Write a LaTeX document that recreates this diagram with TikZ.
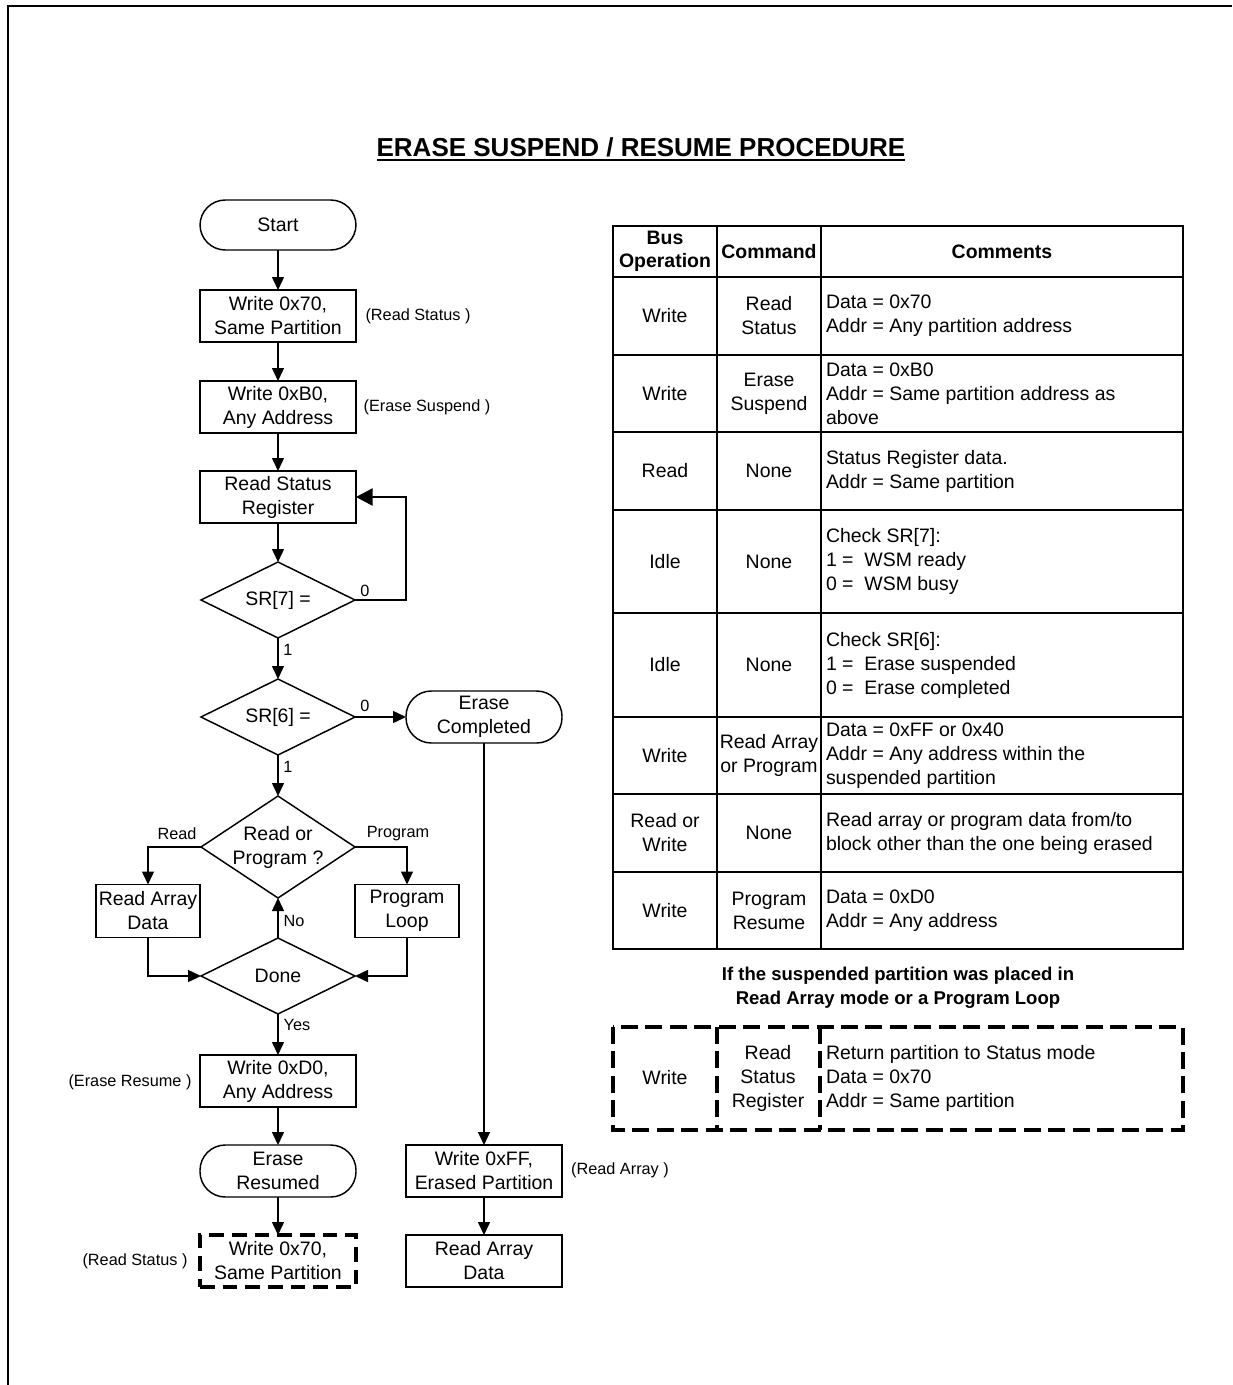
\documentclass[tikz,border=0pt]{standalone}
\usepackage{fontspec}
\setmainfont{Liberation Sans}
\usetikzlibrary{arrows.meta,shapes.geometric}
\begin{document}
\begin{tikzpicture}[x=0.75pt,y=-0.75pt,
  every node/.style={inner sep=0pt, outer sep=0pt},
  main/.style={font=\fontsize{14.6}{18}\selectfont, align=center},
  small/.style={font=\fontsize{12.2}{15}\selectfont},
  flow/.style={line width=1.1pt},
  proc/.style={main, draw, flow, minimum width=117pt, minimum height=39pt},
  dproc/.style={main, draw, line width=3pt, dash pattern=on 11pt off 6pt, minimum width=117pt, minimum height=39pt},
  sproc/.style={main, draw, flow, minimum width=78pt, minimum height=39.75pt},
  term/.style={main, draw, flow, minimum width=117pt, minimum height=39pt, rounded corners=19pt},
  dia/.style={draw, flow, shape=diamond, minimum width=115.5pt, minimum height=57pt},
  arr/.style={flow, -{Triangle[length=9.75pt,width=9pt]}},
  bigarr/.style={flow, -{Triangle[length=12.5pt,width=13pt]}},
  tline/.style={line width=1.5pt},
  dline/.style={line width=3pt, dash pattern=on 12.75pt off 5.6pt},
  hdr/.style={font=\fontsize{14.6}{17}\selectfont\bfseries, align=center},
  cell/.style={main},
  cmt/.style={font=\fontsize{14.6}{18}\selectfont, align=left, anchor=west}
]
\useasboundingbox (0,0) rectangle (1232,1385);
% frame
\draw[line width=2pt] (8,1385) -- (8,6) -- (1232,6);

% title
\node[font=\fontsize{19.5}{23}\selectfont\bfseries] (title) at (641,147) {ERASE SUSPEND / RESUME PROCEDURE};
\draw[line width=1.6pt] ([yshift=-3pt]title.base west) -- ([yshift=-3pt]title.base east);

% flowchart nodes
\node[term, minimum height=37.5pt] (start) at (278,225) {Start};
\node[proc] (b1) at (278,316) {Write 0x70,\\Same Partition};
\node[small] (l1) at (418,316) {(Read Status )};
\node[proc] (b2) at (278,407) {Write 0xB0,\\Any Address};
\node[small] (l2) at (427,407) {(Erase Suspend )};
\node[proc] (b3) at (278,497) {Read Status\\Register};
\node[dia] (d7) at (278,600) {};
\node[main] (d7t) at (d7) {SR[7] =};
\node[dia] (d6) at (278,717) {};
\node[main] (d6t) at (d6) {SR[6] =};
\node[term] (ec) at (484,717) {Erase\\Completed};
\node[dia, minimum height=76.5pt] (rp) at (278,847) {};
\node[main] (rpt) at (rp) {Read or\\Program ?};
\node[sproc] (rad) at (148,911) {Read Array\\Data};
\node[sproc] (pl) at (407,911) {Program\\Loop};
\node[dia] (done) at (278,976) {};
\node[main] (donet) at (done) {Done};
\node[proc] (b4) at (278,1081) {Write 0xD0,\\Any Address};
\node[small] (l4) at (130,1082) {(Erase Resume )};
\node[term] (er) at (278,1171) {Erase\\Resumed};
\node[dproc] (b5) at (278,1261) {Write 0x70,\\Same Partition};
\node[small] (l5) at (135,1261) {(Read Status )};
\node[proc] (wff) at (484,1171) {Write 0xFF,\\Erased Partition};
\node[small] (l6) at (620,1170) {(Read Array )};
\node[proc] (rad2) at (484,1261) {Read Array\\Data};

% connectors
\draw[arr] (start) -- (b1);
\draw[arr] (b1) -- (b2);
\draw[arr] (b2) -- (b3);
\draw[arr] (b3) -- (d7);
\draw[bigarr] (d7.east) -- ++(51,0) |- (b3.east);
\node[small] (z7) at (365,591) {0};
\draw[arr] (d7) -- (d6);
\node[small] (o7) at (288,650) {1};
\draw[arr] (d6.east) -- (ec.west);
\node[small] (z6) at (365,706) {0};
\draw[arr] (d6) -- (rp);
\node[small] (o6) at (288,767) {1};
\draw[arr] (rp.west) -| (rad.north);
\node[small] (lr) at (177,834) {Read};
\draw[arr] (rp.east) -| (pl.north);
\node[small] (lp) at (398,834) {Program};
\draw[arr] (done.north) -- (rp.south);
\node[small] (lno) at (294,921) {No};
\draw[arr] (rad.south) |- (done.west);
\draw[arr] (pl.south) |- (done.east);
\draw[arr] (done.south) -- (b4.north);
\node[small] (lyes) at (297,1025) {Yes};
\draw[arr] (b4) -- (er);
\draw[arr] (er) -- (b5);
\draw[arr] (ec.south) -- (wff.north);
\draw[arr] (wff) -- (rad2);

% table
\draw[tline] (613,226) rectangle (1183,949);
\foreach \yy in {277,355,432,510,613,717,794,872}
  \draw[tline] (613,\yy) -- (1183,\yy);
\draw[tline] (717,226) -- (717,949);
\draw[tline] (821,226) -- (821,949);

\node[hdr] (h1) at (665,251.5) {Bus\\Operation};
\node[hdr] (h2) at (769,251.5) {Command};
\node[hdr] (h3) at (1002,251.5) {Comments};

\node[cell] (r1a) at (665,316) {Write};
\node[cell] (r1b) at (769,316) {Read\\Status};
\node[cmt] (r1c) at (826,316) {Data = 0x70\\Addr = Any partition address};

\node[cell] (r2a) at (665,393.5) {Write};
\node[cell] (r2b) at (769,393.5) {Erase\\Suspend};
\node[cmt] (r2c) at (826,393.5) {Data = 0xB0\\Addr = Same partition address as\\above};

\node[cell] (r3a) at (665,471) {Read};
\node[cell] (r3b) at (769,471) {None};
\node[cmt] (r3c) at (826,471) {Status Register data.\\Addr = Same partition};

\node[cell] (r4a) at (665,561.5) {Idle};
\node[cell] (r4b) at (769,561.5) {None};
\node[cmt] (r4c) at (826,561.5) {Check SR[7]:\\1 = \ WSM ready\\0 = \ WSM busy};

\node[cell] (r5a) at (665,665) {Idle};
\node[cell] (r5b) at (769,665) {None};
\node[cmt] (r5c) at (826,665) {Check SR[6]:\\1 = \ Erase suspended\\0 = \ Erase completed};

\node[cell] (r6a) at (665,755.5) {Write};
\node[cell] (r6b) at (769,755.5) {Read Array\\or Program};
\node[cmt] (r6c) at (826,755.5) {Data = 0xFF or 0x40\\Addr = Any address within the\\suspended partition};

\node[cell] (r7a) at (665,833) {Read or\\Write};
\node[cell] (r7b) at (769,833) {None};
\node[cmt] (r7c) at (826,833) {Read array or program data from/to\\block other than the one being erased};

\node[cell] (r8a) at (665,910.5) {Write};
\node[cell] (r8b) at (769,910.5) {Program\\Resume};
\node[cmt] (r8c) at (826,910.5) {Data = 0xD0\\Addr = Any address};

% caption
\node[font=\fontsize{13.9}{18}\selectfont\bfseries, align=center] (cap) at (898,988) {If the suspended partition was placed in\\Read Array mode or a Program Loop};

% dashed table
\draw[dline] (613,1027) rectangle (1183,1130);
\draw[dline] (717,1027) -- (717,1130);
\draw[dline] (820,1027) -- (820,1130);
\node[cell] (s1) at (665,1078) {Write};
\node[cell] (s2) at (768,1078) {Read\\Status\\Register};
\node[cmt] (s3) at (826,1078) {Return partition to Status mode\\Data = 0x70\\Addr = Same partition};
\end{tikzpicture}
\end{document}
